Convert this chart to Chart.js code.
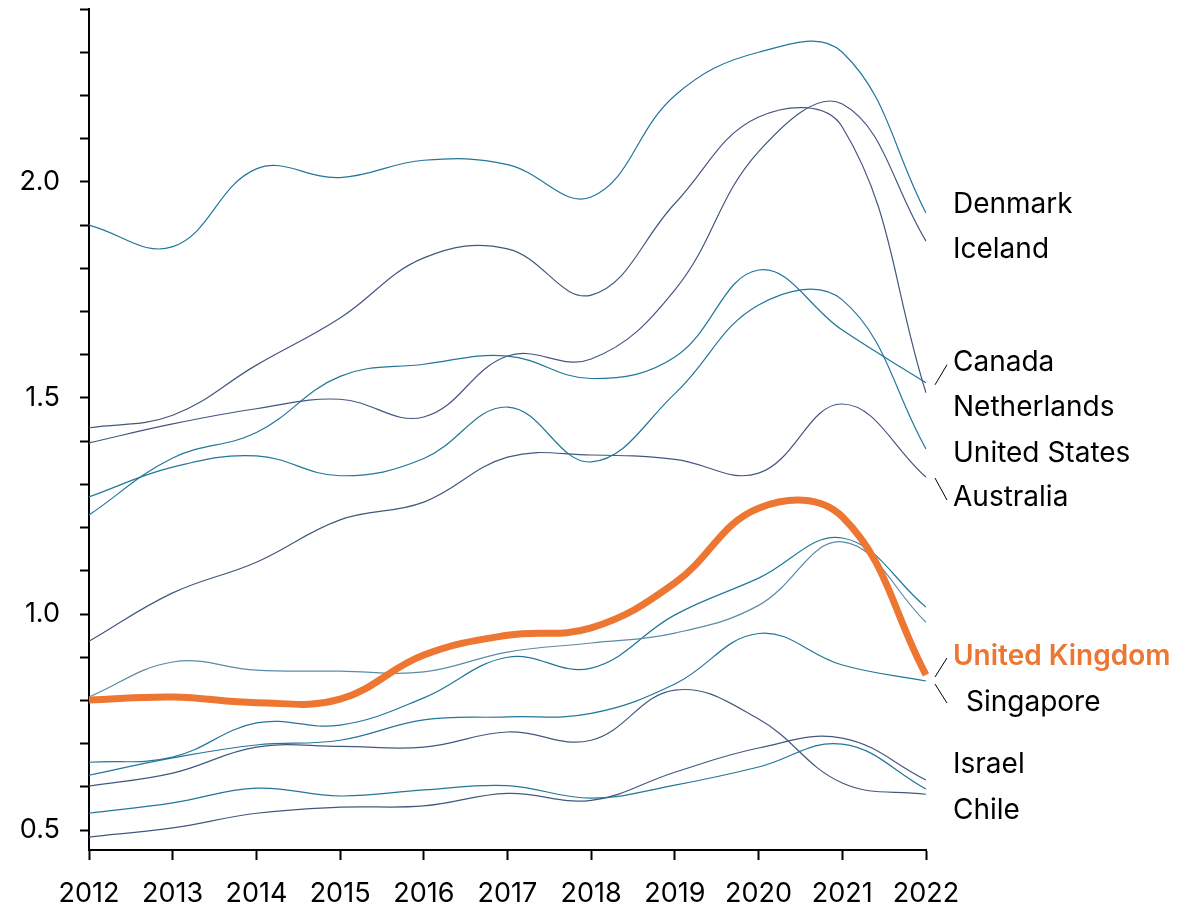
<!DOCTYPE html>
<html>
<head>
<meta charset="utf-8">
<script src="https://cdn.jsdelivr.net/npm/chart.js@4.4.1/dist/chart.umd.min.js"></script>
<style>
  html, body { margin: 0; padding: 0; background: #ffffff; }
  #wrap { width: 1189px; height: 906px; }
</style>
</head>
<body>
<div id="wrap"><canvas id="chart" width="1189" height="906"></canvas></div>
<script>
// годы по оси X
const years = ['2012', '2013', '2014', '2015', '2016', '2017', '2018', '2019', '2020', '2021', '2022'];

// значения по странам
const unitedKingdom = [0.801, 0.808, 0.795, 0.803, 0.905, 0.951, 0.968, 1.072, 1.245, 1.225, 0.859];
const denmark = [1.90, 1.85, 2.03, 2.01, 2.05, 2.04, 1.965, 2.20, 2.30, 2.30, 1.928];
const iceland = [1.396, 1.44, 1.475, 1.497, 1.456, 1.597, 1.59, 1.75, 2.07, 2.18, 1.863];
const netherlands = [1.431, 1.46, 1.576, 1.685, 1.824, 1.845, 1.738, 1.95, 2.15, 2.127, 1.512];
const canada = [1.229, 1.361, 1.42, 1.55, 1.578, 1.597, 1.545, 1.595, 1.796, 1.657, 1.535];
const unitedStates = [1.271, 1.34, 1.366, 1.32, 1.36, 1.479, 1.352, 1.51, 1.715, 1.727, 1.382];
const australia = [0.937, 1.049, 1.12, 1.218, 1.259, 1.363, 1.368, 1.358, 1.326, 1.486, 1.317];
const singapore = [0.627, 0.667, 0.697, 0.708, 0.755, 0.762, 0.77, 0.838, 0.955, 0.882, 0.845];
const israel = [0.484, 0.505, 0.539, 0.553, 0.556, 0.585, 0.569, 0.634, 0.69, 0.713, 0.616];
const chile = [0.602, 0.632, 0.692, 0.694, 0.692, 0.727, 0.708, 0.824, 0.757, 0.609, 0.583];
// линии без подписи
const unlabeledA = [0.808, 0.889, 0.87, 0.868, 0.866, 0.912, 0.933, 0.956, 1.02, 1.167, 0.981];
const unlabeledB = [0.657, 0.669, 0.748, 0.743, 0.806, 0.90, 0.875, 0.998, 1.083, 1.176, 1.016];
const unlabeledC = [0.539, 0.563, 0.597, 0.579, 0.593, 0.603, 0.574, 0.604, 0.646, 0.699, 0.595];

// подписи делений оси Y
const yTickLabels = [0.5, 1.0, 1.5, 2.0];

const TEAL = '#22779a';
const SLATE = '#43587f';
const PALE = '#5a8ca6';
const ORANGE = '#ed7632';
const FONT = 'Inter, "Open Sans", sans-serif';

const line = (label, data, color, width = 1.2) => ({
  label,
  data,
  borderColor: color,
  backgroundColor: color,
  borderWidth: width,
  pointRadius: 0,
  tension: 0.4,
  fill: false,
});

// плагин подписей справа от линий
const endLabels = {
  id: 'endLabels',
  afterDatasetsDraw(chart, args, opts) {
    const { ctx, chartArea: { right }, scales: { y } } = chart;
    ctx.save();
    ctx.textBaseline = 'middle';
    ctx.textAlign = 'left';
    chart.data.datasets.forEach((ds) => {
      const item = opts.items[ds.label];
      if (!item) return;
      const endY = y.getPixelForValue(ds.data[ds.data.length - 1]);
      const labelY = endY + item.dy;
      if (item.leader) {
        ctx.strokeStyle = '#000';
        ctx.lineWidth = 1;
        ctx.beginPath();
        ctx.moveTo(right + 9, endY + item.leader[0]);
        ctx.lineTo(right + 21, endY + item.leader[1]);
        ctx.stroke();
      }
      ctx.font = `${item.bold ? '600 ' : ''}${opts.size}px ${FONT}`;
      ctx.fillStyle = item.color || '#000';
      ctx.fillText(ds.label, right + opts.gap + (item.dx || 0), labelY);
    });
    ctx.restore();
  },
};

const chartConfig = {
  type: 'line',
  data: {
    labels: years,
    datasets: [
      line('United Kingdom', unitedKingdom, ORANGE, 7),
      line('Denmark', denmark, TEAL),
      line('Iceland', iceland, SLATE),
      line('Netherlands', netherlands, SLATE),
      line('Canada', canada, TEAL),
      line('United States', unitedStates, TEAL),
      line('Australia', australia, SLATE),
      line('', unlabeledA, PALE),
      line('', unlabeledB, TEAL),
      line('Singapore', singapore, TEAL),
      line('Chile', chile, SLATE),
      line('', unlabeledC, TEAL),
      line('Israel', israel, SLATE),
    ],
  },
  options: {
    responsive: false,
    animation: false,
    events: [],
    layout: { padding: { top: 9, right: 263, bottom: 0, left: 0 } },
    plugins: {
      legend: { display: false },
      tooltip: { enabled: false },
      endLabels: {
        gap: 27,
        size: 28,
        items: {
          Denmark: { dy: -8 },
          Iceland: { dy: 9 },
          Canada: { dy: -20, leader: [2, -18] },
          Netherlands: { dy: 15 },
          'United States': { dy: 5 },
          Australia: { dy: 21, leader: [1, 23] },
          'United Kingdom': { dy: -18, leader: [2, -17], bold: true, color: ORANGE },
          Singapore: { dy: 22, dx: 13, leader: [3, 22] },
          Israel: { dy: -15 },
          Chile: { dy: 16 },
        },
      },
    },
    scales: {
      x: {
        offset: false,
        border: { color: '#000', width: 2 },
        grid: {
          drawOnChartArea: false, drawTicks: true, tickLength: 10, tickColor: '#000', tickWidth: 2,
        },
        ticks: {
          color: '#000', font: { family: FONT, size: 27 }, padding: 18, maxRotation: 0, autoSkip: false,
        },
        afterFit(scale) { scale.height = 56; },
      },
      y: {
        min: 0.454,
        max: 2.4,
        border: { color: '#000', width: 2 },
        grid: {
          drawOnChartArea: false, drawTicks: true, tickLength: 9, tickColor: '#000', tickWidth: 2,
        },
        ticks: {
          stepSize: 0.1,
          includeBounds: false,
          color: '#000',
          font: { family: FONT, size: 27 },
          padding: 20,
          callback(value) {
            const hit = yTickLabels.find((v) => Math.abs(v - value) < 1e-6);
            return hit === undefined ? '' : hit.toFixed(1);
          },
        },
        afterFit(scale) {
          scale.width = 89;
          // убираем запас сверху под пустую подпись
          scale.paddingTop = 0;
          scale.paddingBottom = 0;
        },
      },
    },
  },
  plugins: [endLabels],
};

const chart = new Chart(document.getElementById('chart'), chartConfig);
</script>
</body>
</html>
